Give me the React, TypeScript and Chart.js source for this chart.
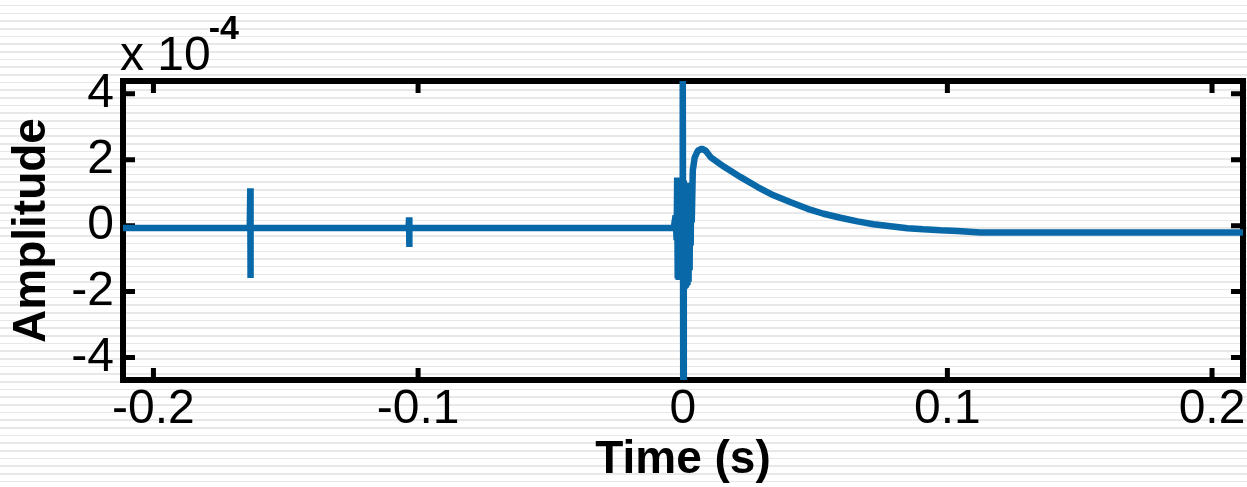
import React, { useEffect, useRef } from "react";
import { Chart, registerables } from "chart.js";

Chart.register(...registerables);

// Time (s)
const times = [
  -0.215, -0.1636, -0.1634, -0.1634, -0.1632, -0.1036, -0.1034, -0.1034, -0.1032,
  -0.0034, -0.0027, -0.0023, -0.0021, -0.0019, -0.0017, -0.0015, -0.0013, -0.0011,
  -0.0009, -0.0007, -0.0005, -0.0003, -0.0001, 0.0, 0.0002, 0.0004, 0.0006, 0.0008,
  0.001, 0.0012, 0.0014, 0.0016, 0.0018, 0.002, 0.0022, 0.0024, 0.0026, 0.0028,
  0.003, 0.0032, 0.0034, 0.0038, 0.0045, 0.0057, 0.0072, 0.0087, 0.0106, 0.0155,
  0.0219, 0.0283, 0.0343, 0.0408, 0.0472, 0.0532, 0.0596, 0.066, 0.0721, 0.0785,
  0.0849, 0.0909, 0.0974, 0.1038, 0.1125, 0.215,
];

// Amplitude, in units of 1e-4
const amps = [
  -0.07, -0.07, 1.13, -1.59, -0.07, -0.07, 0.25, -0.65, -0.07,
  -0.07, 0.31, -0.44, 1.46, -1.6, 1.45, -1.65, 1.4, -1.6,
  1.37, -1.59, 1.43, -1.5, 1.4, 5.5, -5.5, 1.37, -1.86, 1.3,
  -1.86, 1.25, -1.8, 1.22, -1.8, 1.15, -1.7, 1.07, -1.35, 1.3,
  -0.6, 1.3, 0.1, 1.67, 2.06, 2.27, 2.33, 2.27, 2.07, 1.79,
  1.47, 1.17, 0.92, 0.71, 0.51, 0.36, 0.24, 0.13, 0.04, -0.02,
  -0.08, -0.11, -0.14, -0.16, -0.21, -0.21,
];

const xTicks = [-0.2, -0.1, 0, 0.1, 0.2];
const xTickLabels = ["-0.2", "-0.1", "0", "0.1", "0.2"];
const yTicks = [-4, -2, 0, 2, 4];
const yTickLabels = ["-4", "-2", "0", "2", "4"];
const xRange = [-0.2115, 0.2117];
const yRange = [-4.68, 4.385];
const xTitle = "Time (s)";
const yTitle = "Amplitude";
const exponentBase = "x 10";
const exponentPower = "-4";

const FONT = '"Liberation Sans", Arial, Helvetica, sans-serif';
const LINE_COLOR = "#0868a8";

const framePlugin = {
  id: "frame",
  beforeDatasetsDraw(chart: any) {
    const { ctx, chartArea: a, scales } = chart;
    ctx.save();
    ctx.strokeStyle = "#000";
    ctx.lineWidth = 6;
    ctx.lineJoin = "miter";
    ctx.strokeRect(a.left, a.top, a.right - a.left, a.bottom - a.top);
    ctx.lineWidth = 5;
    ctx.beginPath();
    const len = 12;
    for (const v of xTicks) {
      const px = scales.x.getPixelForValue(v);
      ctx.moveTo(px, a.bottom);
      ctx.lineTo(px, a.bottom - len);
      ctx.moveTo(px, a.top);
      ctx.lineTo(px, a.top + len);
    }
    for (const v of yTicks) {
      const py = scales.y.getPixelForValue(v);
      ctx.moveTo(a.left, py);
      ctx.lineTo(a.left + len, py);
      ctx.moveTo(a.right, py);
      ctx.lineTo(a.right - len, py);
    }
    ctx.stroke();
    ctx.restore();
  },
  afterDraw(chart: any) {
    const { ctx } = chart;
    ctx.save();
    ctx.fillStyle = "#000";
    ctx.textBaseline = "alphabetic";
    ctx.textAlign = "left";
    ctx.font = "48px " + FONT;
    ctx.fillText(exponentBase, 120, 70);
    const w = ctx.measureText(exponentBase).width;
    ctx.font = "bold 34px " + FONT;
    ctx.fillText(exponentPower, 120 + w - 2, 39);
    ctx.restore();
  },
};

export default function App() {
  const ref = useRef<HTMLCanvasElement | null>(null);

  useEffect(() => {
    if (!ref.current) return;
    const points = times.map((t, i) => ({ x: t, y: amps[i] }));
    const chart = new Chart(ref.current, {
      type: "line",
      data: {
        datasets: [
          {
            data: points,
            borderColor: LINE_COLOR,
            backgroundColor: LINE_COLOR,
            borderWidth: 6.5,
            pointRadius: 0,
            tension: 0,
            borderJoinStyle: "bevel",
            fill: false,
          },
        ],
      },
      options: {
        animation: false,
        responsive: false,
        layout: { padding: { left: 0, top: 81, right: 4, bottom: 0 } },
        plugins: { legend: { display: false }, tooltip: { enabled: false }, title: { display: false } },
        scales: {
          x: {
            type: "linear",
            min: xRange[0],
            max: xRange[1],
            grid: { display: false, drawTicks: false },
            border: { display: false },
            afterBuildTicks: (s: any) => {
              s.ticks = xTicks.map((v) => ({ value: v }));
            },
            afterFit: (s: any) => {
              s.height = 107;
            },
            ticks: {
              autoSkip: false,
              maxRotation: 0,
              padding: 1,
              color: "#000",
              font: { family: FONT, size: 48, lineHeight: 1.2 },
              callback: (v: any) => {
                const i = xTicks.findIndex((t) => Math.abs(t - Number(v)) < 1e-9);
                return i >= 0 ? xTickLabels[i] : "";
              },
            },
            title: {
              display: true,
              text: xTitle,
              color: "#000",
              font: { family: FONT, size: 46, weight: "bold", lineHeight: 1.1 },
              padding: { top: 0, bottom: 1 },
            },
          },
          y: {
            type: "linear",
            min: yRange[0],
            max: yRange[1],
            grid: { display: false, drawTicks: false },
            border: { display: false },
            afterBuildTicks: (s: any) => {
              s.ticks = yTicks.map((v) => ({ value: v }));
            },
            afterFit: (s: any) => {
              s.width = 123;
            },
            ticks: {
              autoSkip: false,
              padding: 9,
              color: "#000",
              font: { family: FONT, size: 48, lineHeight: 1.2 },
              callback: (v: any) => {
                const i = yTicks.findIndex((t) => Math.abs(t - Number(v)) < 1e-9);
                return i >= 0 ? yTickLabels[i] : "";
              },
            },
            title: {
              display: true,
              text: yTitle,
              color: "#000",
              font: { family: FONT, size: 46, weight: "bold", lineHeight: 1.2 },
              padding: { top: 5, bottom: 0 },
            },
          },
        },
      },
      plugins: [framePlugin],
    });
    return () => chart.destroy();
  }, []);

  return (
    <div
      style={{
        position: "fixed",
        left: 0,
        top: 0,
        width: 1247,
        height: 487,
        overflow: "hidden",
        background:
          "repeating-linear-gradient(to bottom, #ffffff 0px, #ffffff 4.9px, #e8e8e8 4.9px, #e8e8e8 6.5px, #ffffff 6.5px, #ffffff 7.675px)",
      }}
    >
      <canvas ref={ref} width={1247} height={487} style={{ display: "block" }} />
    </div>
  );
}
